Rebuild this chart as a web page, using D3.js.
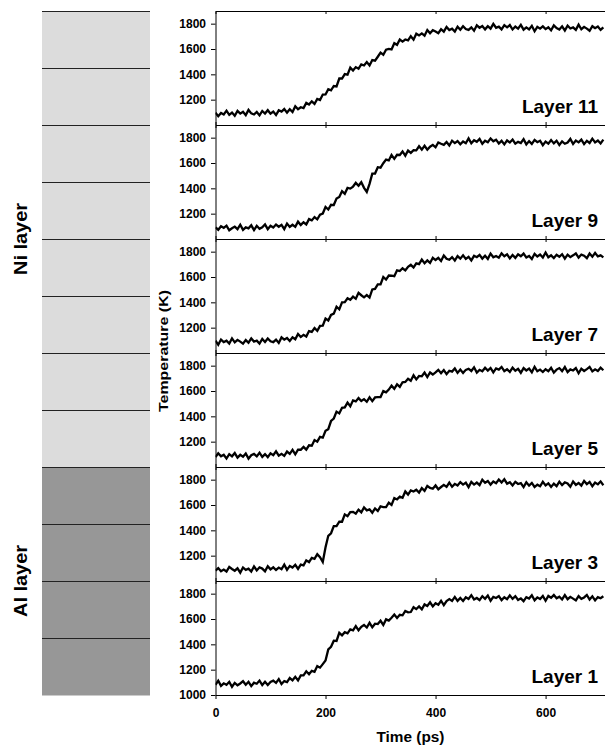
<!DOCTYPE html>
<html>
<head>
<meta charset="utf-8">
<script src="https://cdn.jsdelivr.net/npm/d3@7"></script>
<style>
  body { margin: 0; background: #fff; }
  svg { display: block; font-family: "Liberation Sans", Arial, sans-serif; font-weight: bold; }
</style>
</head>
<body>
<svg id="chart" width="605" height="748"></svg>
<script>
// sample times (ps), one reading every 5 ps
const timePs = [
  0, 5, 10, 15, 20, 25, 30, 35, 40, 45, 50, 55, 60, 65, 70, 75, 80, 85, 90, 95,
  100, 105, 110, 115, 120, 125, 130, 135, 140, 145, 150, 155, 160, 165, 170, 175, 180, 185, 190, 195,
  200, 205, 210, 215, 220, 225, 230, 235, 240, 245, 250, 255, 260, 265, 270, 275, 280, 285, 290, 295,
  300, 305, 310, 315, 320, 325, 330, 335, 340, 345, 350, 355, 360, 365, 370, 375, 380, 385, 390, 395,
  400, 405, 410, 415, 420, 425, 430, 435, 440, 445, 450, 455, 460, 465, 470, 475, 480, 485, 490, 495,
  500, 505, 510, 515, 520, 525, 530, 535, 540, 545, 550, 555, 560, 565, 570, 575, 580, 585, 590, 595,
  600, 605, 610, 615, 620, 625, 630, 635, 640, 645, 650, 655, 660, 665, 670, 675, 680, 685, 690, 695,
  700, 705
];

// temperature (K)
const layer11 = [
  1097,1070,1095,1083,1113,1080,1098,1073,1111,1090,1105,1078,1119,1092,1083,1103,1076,1111,1091,1117,
  1089,1106,1079,1116,1106,1126,1098,1124,1102,1148,1124,1140,1133,1174,1161,1187,1167,1206,1197,1240,
  1241,1283,1274,1308,1305,1367,1367,1402,1398,1453,1430,1457,1445,1478,1470,1497,1470,1513,1508,1539,
  1571,1555,1595,1601,1597,1646,1633,1675,1658,1675,1668,1701,1674,1721,1707,1723,1705,1750,1724,1748,
  1738,1725,1756,1737,1774,1750,1760,1738,1776,1752,1780,1758,1751,1771,1744,1787,1768,1781,1755,1780,
  1761,1798,1768,1777,1755,1788,1771,1789,1754,1777,1761,1791,1753,1771,1755,1783,1740,1775,1761,1779,
  1757,1772,1747,1786,1765,1754,1779,1746,1785,1762,1771,1751,1792,1756,1775,1761,1744,1780,1764,1777,
  1751,1771
];
const layer9 = [
  1091,1073,1100,1088,1105,1069,1085,1098,1078,1113,1072,1092,1084,1108,1070,1104,1081,1093,1116,1078,
  1105,1091,1114,1097,1112,1078,1122,1095,1112,1096,1137,1111,1132,1115,1157,1147,1173,1155,1192,1201,
  1253,1233,1270,1268,1319,1332,1377,1357,1403,1398,1414,1443,1420,1448,1404,1372,1435,1516,1517,1567,
  1563,1598,1627,1620,1663,1633,1665,1663,1691,1658,1699,1680,1702,1700,1732,1706,1736,1705,1729,1743,
  1724,1762,1752,1743,1766,1738,1776,1757,1773,1748,1770,1756,1794,1756,1780,1767,1790,1751,1776,1764,
  1794,1771,1784,1754,1775,1747,1778,1762,1785,1753,1767,1758,1788,1747,1773,1751,1782,1764,1776,1741,
  1769,1753,1781,1755,1776,1742,1771,1752,1762,1790,1750,1777,1763,1785,1749,1775,1758,1792,1763,1777,
  1754,1784
];
const layer7 = [
  1098,1065,1106,1086,1097,1074,1115,1084,1104,1090,1074,1102,1081,1115,1090,1098,1075,1111,1087,1115,
  1093,1086,1106,1079,1123,1105,1119,1095,1123,1108,1150,1126,1143,1130,1173,1167,1197,1175,1214,1216,
  1272,1257,1301,1311,1365,1345,1400,1401,1432,1420,1445,1428,1475,1456,1439,1457,1438,1502,1506,1541,
  1542,1600,1580,1612,1610,1606,1653,1647,1669,1652,1681,1696,1675,1707,1701,1737,1709,1731,1711,1752,
  1734,1751,1727,1770,1744,1736,1757,1730,1765,1745,1771,1743,1759,1731,1767,1756,1775,1745,1768,1743,
  1785,1756,1766,1753,1786,1764,1779,1747,1774,1751,1779,1764,1785,1754,1766,1742,1783,1762,1777,1754,
  1793,1756,1771,1750,1775,1760,1780,1745,1776,1757,1771,1786,1753,1777,1768,1749,1785,1760,1790,1763,
  1771,1755
];
const layer5 = [
  1078,1108,1084,1097,1067,1101,1084,1110,1074,1096,1081,1107,1066,1093,1103,1084,1113,1080,1102,1078,
  1108,1094,1124,1090,1104,1088,1122,1104,1135,1100,1137,1136,1159,1137,1171,1168,1213,1200,1238,1232,
  1286,1299,1363,1383,1437,1423,1467,1471,1508,1480,1526,1518,1544,1521,1536,1515,1550,1520,1549,1551,
  1552,1599,1589,1611,1642,1617,1653,1632,1669,1671,1697,1681,1724,1692,1719,1716,1745,1710,1746,1730,
  1747,1767,1741,1765,1733,1760,1753,1778,1743,1769,1743,1767,1776,1758,1787,1746,1767,1756,1784,1761,
  1782,1747,1778,1769,1790,1756,1771,1751,1784,1760,1775,1744,1781,1762,1777,1748,1791,1756,1769,1750,
  1772,1757,1784,1746,1769,1781,1757,1789,1749,1771,1762,1781,1740,1776,1758,1773,1790,1755,1771,1758,
  1784,1764
];
const layer3 = [
  1082,1102,1077,1090,1075,1111,1095,1081,1100,1066,1107,1088,1098,1075,1115,1083,1108,1098,1077,1117,
  1092,1108,1087,1106,1093,1129,1088,1119,1106,1128,1095,1130,1124,1163,1149,1183,1175,1212,1188,1150,
  1266,1357,1377,1434,1434,1469,1468,1526,1512,1544,1546,1531,1563,1542,1581,1558,1566,1539,1573,1553,
  1589,1584,1584,1618,1601,1655,1644,1666,1657,1707,1682,1715,1706,1720,1698,1733,1712,1751,1735,1728,
  1754,1724,1742,1759,1743,1777,1744,1767,1754,1781,1761,1777,1741,1782,1761,1777,1757,1799,1776,1790,
  1761,1785,1772,1801,1778,1803,1768,1780,1754,1783,1766,1773,1741,1780,1753,1774,1742,1760,1748,1783,
  1755,1771,1743,1769,1749,1784,1757,1778,1770,1744,1785,1759,1774,1753,1790,1765,1782,1748,1777,1763,
  1786,1756
];
const layer1 = [
  1080,1113,1072,1092,1081,1104,1065,1096,1077,1091,1109,1081,1104,1070,1097,1089,1114,1079,1105,1079,
  1103,1113,1096,1126,1087,1110,1102,1134,1116,1143,1115,1155,1155,1187,1164,1191,1183,1228,1216,1244,
  1273,1360,1381,1429,1427,1491,1471,1496,1487,1518,1511,1544,1511,1538,1553,1533,1570,1535,1563,1560,
  1586,1553,1597,1587,1610,1635,1608,1633,1629,1664,1653,1655,1693,1678,1699,1676,1715,1703,1732,1699,
  1724,1713,1744,1709,1742,1757,1742,1774,1743,1766,1742,1772,1758,1788,1754,1766,1749,1780,1759,1785,
  1744,1775,1766,1781,1749,1772,1756,1787,1759,1780,1750,1763,1741,1772,1761,1787,1748,1771,1758,1782,
  1744,1782,1768,1789,1763,1776,1754,1788,1756,1775,1761,1747,1781,1759,1770,1790,1754,1779,1747,1773,
  1764,1780
];

const panelLayers = [11, 9, 7, 5, 3, 1];
const panelSeries = [layer11, layer9, layer7, layer5, layer3, layer1];

// the layered sample drawn on the left, top to bottom
const stripLayers = [12, 11, 10, 9, 8, 7, 6, 5, 4, 3, 2, 1];
const stripMaterial = ['Ni', 'Ni', 'Ni', 'Ni', 'Ni', 'Ni', 'Ni', 'Ni', 'Al', 'Al', 'Al', 'Al'];
const materialNames = ['Ni', 'Al'];
const materialLabels = ['Ni layer', 'Al layer'];

const xTicks = [0, 200, 400, 600];
const yTicks = [1200, 1400, 1600, 1800];
const yTicksBottom = [1000, 1200, 1400, 1600, 1800];

const svg = d3.select('#chart');
const plotTop = 11;
const plotBottom = 695;
const fmt = d3.format('d');

const stripY = d3.scaleBand().domain(stripLayers).range([plotTop, plotBottom]);
const panelY = d3.scaleBand().domain(panelLayers).range([plotTop, plotBottom]);
const x = d3.scaleLinear().domain([0, 708]).range([215.5, 605]);
const fill = d3.scaleOrdinal().domain(materialNames).range(['#dcdcdc', '#979797']);

//left column: the layer stack
svg.append('g')
  .selectAll('rect')
  .data(stripLayers)
  .join('rect')
  .attr('x', 42)
  .attr('width', 108)
  .attr('y', (d) => stripY(d))
  .attr('height', stripY.bandwidth() + 0.5)
  .attr('fill', (d, i) => fill(stripMaterial[i]));

svg.append('g')
  .selectAll('line')
  .data(stripLayers)
  .join('line')
  .attr('x1', 42)
  .attr('x2', 150)
  .attr('y1', (d) => Math.round(stripY(d)) + 0.5)
  .attr('y2', (d) => Math.round(stripY(d)) + 0.5)
  .attr('stroke', '#222')
  .attr('stroke-width', 1);

materialNames.forEach((m, k) => {
  const rows = stripLayers.filter((d, i) => stripMaterial[i] === m);
  const y0 = stripY(rows[0]);
  const y1 = stripY(rows[rows.length - 1]) + stripY.bandwidth();
  svg.append('text')
    .attr('transform', `translate(27,${(y0 + y1) / 2}) rotate(-90)`)
    .attr('text-anchor', 'middle')
    .attr('font-size', 18)
    .attr('textLength', 72)
    .attr('lengthAdjust', 'spacingAndGlyphs')
    .text(materialLabels[k]);
});

const line = d3.line()
  .x((d, j) => x(timePs[j]));

panelLayers.forEach((layer, i) => {
  const top = panelY(layer);
  const bottom = top + panelY.bandwidth();
  const last = i === panelLayers.length - 1;
  const y = d3.scaleLinear().domain([1000, 1900]).range([bottom, top]);

  const g = svg.append('g');

  g.append('clipPath')
    .attr('id', `clip${layer}`)
    .append('rect')
    .attr('x', x(0))
    .attr('y', top)
    .attr('width', x.range()[1] - x(0))
    .attr('height', bottom - top);

  //noisy trace, drawn heavy like the original
  g.append('path')
    .datum(panelSeries[i])
    .attr('clip-path', `url(#clip${layer})`)
    .attr('fill', 'none')
    .attr('stroke', '#000')
    .attr('stroke-width', 2.3)
    .attr('stroke-linejoin', 'miter')
    .attr('d', line.y((d) => y(d)));

  // y axis
  const yAxis = g.append('g')
    .attr('transform', `translate(${x(0)},0)`)
    .call(d3.axisLeft(y)
      .tickValues(last ? yTicksBottom : yTicks)
      .tickFormat(fmt)
      .tickSizeInner(4.5)
      .tickSizeOuter(0)
      .tickPadding(5));
  yAxis.attr('font-size', 12).attr('font-family', null);

  // top edge, ticks pointing into the panel
  g.append('g')
    .attr('transform', `translate(0,${top})`)
    .call(d3.axisTop(x).tickValues(xTicks).tickSizeInner(-3).tickSizeOuter(0).tickFormat(''));

  // bottom edge
  const xAxis = g.append('g')
    .attr('transform', `translate(0,${bottom})`)
    .call(last
      ? d3.axisBottom(x).tickValues(xTicks).tickFormat(fmt).tickSizeInner(4).tickSizeOuter(0).tickPadding(9)
      : d3.axisBottom(x).tickValues(xTicks).tickSizeInner(-3).tickSizeOuter(0).tickFormat(''));
  xAxis.attr('font-size', 12).attr('font-family', null);

  g.append('text')
    .attr('x', 598)
    .attr('y', bottom - 12.5)
    .attr('text-anchor', 'end')
    .attr('font-size', 19)
    .text(`Layer ${layer}`);
});

svg.append('text')
  .attr('x', 410.5)
  .attr('y', 742)
  .attr('text-anchor', 'middle')
  .attr('font-size', 14)
  .attr('textLength', 68)
  .attr('lengthAdjust', 'spacingAndGlyphs')
  .text('Time (ps)');

svg.append('text')
  .attr('transform', 'translate(168,351) rotate(-90)')
  .attr('text-anchor', 'middle')
  .attr('font-size', 13)
  .attr('textLength', 122)
  .attr('lengthAdjust', 'spacingAndGlyphs')
  .text('Temperature (K)');
</script>
</body>
</html>
